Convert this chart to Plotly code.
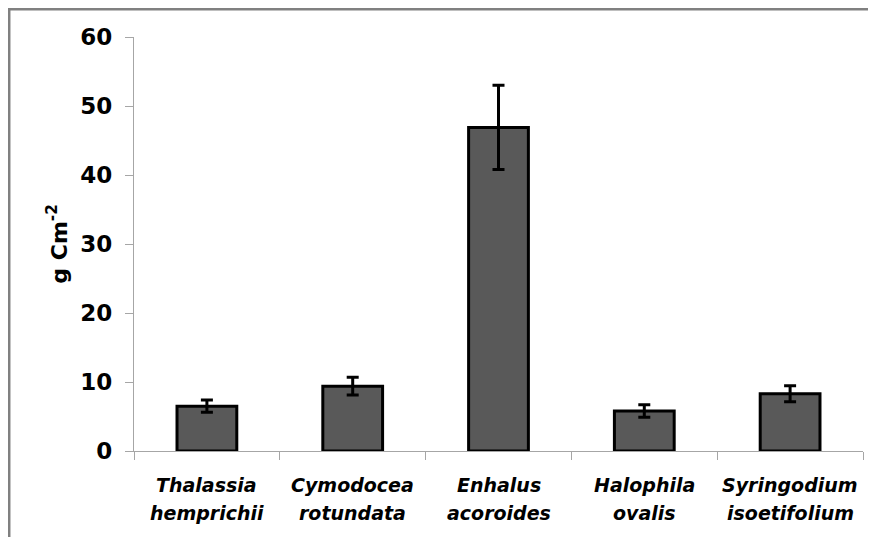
import plotly.graph_objects as go

species_line1 = ["Thalassia", "Cymodocea", "Enhalus", "Halophila", "Syringodium"]
species_line2 = ["hemprichii", "rotundata", "acoroides", "ovalis", "isoetifolium"]
categories = [a + " " + b for a, b in zip(species_line1, species_line2)]
values = [6.5, 9.4, 46.9, 5.8, 8.3]
errors = [0.9, 1.3, 6.1, 0.9, 1.15]
y_ticks = [0, 10, 20, 30, 40, 50, 60]

FONT = "DejaVu Sans"
AX = "#a6a6a6"

fig = go.Figure()
fig.add_trace(go.Bar(
    x=categories, y=values, width=0.41,
    marker=dict(color="#595959", line=dict(color="#000000", width=3)),
    error_y=dict(type="data", array=errors, visible=True,
                 color="#000000", thickness=3, width=6),
))

annotations = []
for cat, l1, l2 in zip(categories, species_line1, species_line2):
    annotations.append(dict(x=cat, y=-0.082, xref="x", yref="paper", text=l1,
                            showarrow=False, xanchor="center", yanchor="middle",
                            font=dict(family=FONT, size=19, color="#000000",
                                      weight="bold", style="italic")))
    annotations.append(dict(x=cat, y=-0.15, xref="x", yref="paper", text=l2,
                            showarrow=False, xanchor="center", yanchor="middle",
                            font=dict(family=FONT, size=19, color="#000000",
                                      weight="bold", style="italic")))
annotations.append(dict(x=-0.105, y=0.502, xref="paper", yref="paper",
                        text="g Cm<sup>-2</sup>", textangle=-90, showarrow=False,
                        xanchor="center", yanchor="middle",
                        font=dict(family=FONT, size=22, color="#000000", weight="bold")))

fig.update_layout(
    width=876, height=537,
    margin=dict(l=126, r=21, t=29, b=94),
    paper_bgcolor="#ffffff", plot_bgcolor="#ffffff",
    showlegend=False,
    annotations=annotations,
    shapes=[dict(type="rect", xref="paper", yref="paper",
                 x0=-0.1715, x1=1.2, y0=-0.5, y1=1.0676,
                 line=dict(color="#808080", width=3), fillcolor="rgba(0,0,0,0)",
                 layer="below")],
)
fig.update_xaxes(
    showline=True, linecolor=AX, linewidth=1.2,
    ticks="outside", ticklen=8, tickcolor=AX, tickwidth=1.2,
    tickson="boundaries", showticklabels=False, showgrid=False, zeroline=False,
)
fig.update_yaxes(
    range=[0, 60], tickvals=y_ticks,
    showline=True, linecolor=AX, linewidth=1.2,
    ticks="outside", ticklen=8, tickcolor=AX, tickwidth=1.2,
    ticklabelstandoff=8,
    showgrid=False, zeroline=False,
    tickfont=dict(family=FONT, size=23, color="#000000", weight="bold"),
)

fig.write_html("out.html")
